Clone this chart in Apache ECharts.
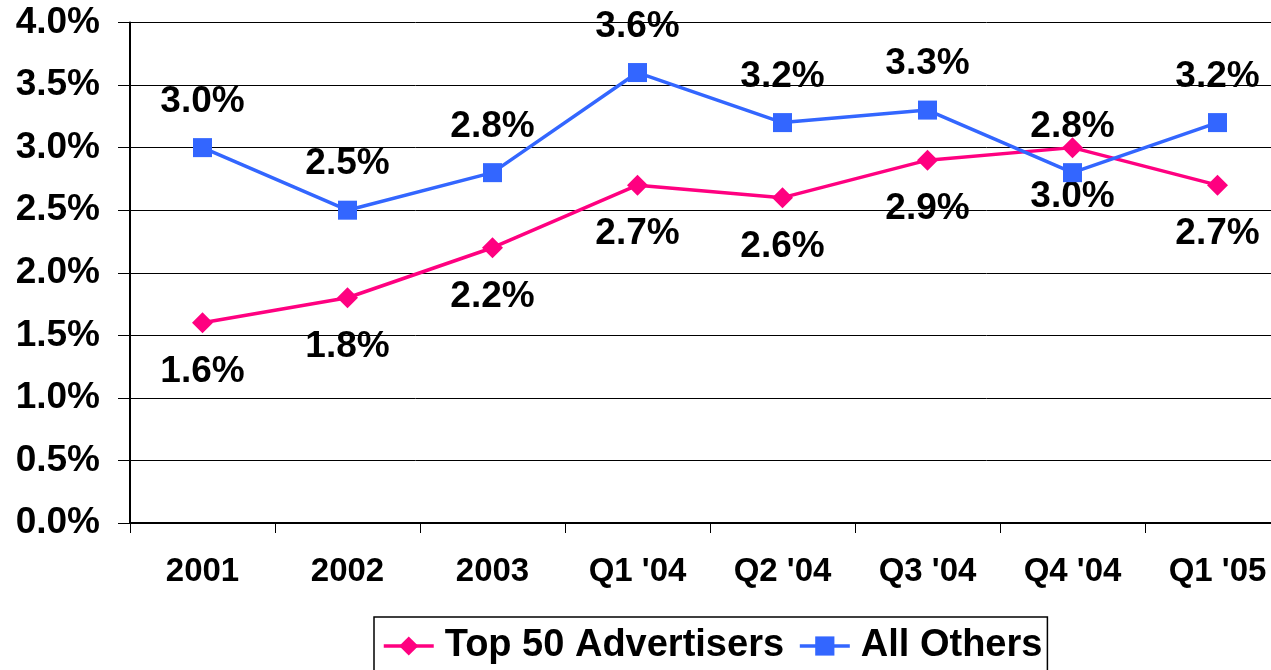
<!DOCTYPE html>
<html lang="en">
<head>
    <meta charset="utf-8">
    <title>Top 50 Advertisers vs All Others</title>
    <script src="https://cdn.jsdelivr.net/npm/echarts@6/dist/echarts.min.js"></script>
    <style type="text/css">
        html, body {margin: 0; padding: 0; background: #fff;}
        #chart {width: 1271px; height: 670px;}
    </style>
</head>
<body>
    <div id="chart"></div>
    <script>
        var categories = ['2001', '2002', '2003', "Q1 '04", "Q2 '04", "Q3 '04", "Q4 '04", "Q1 '05"];
        var top50 = [1.6, 1.8, 2.2, 2.7, 2.6, 2.9, 3.0, 2.7];
        var allOthers = [3.0, 2.5, 2.8, 3.6, 3.2, 3.3, 2.8, 3.2];
        var yMin = 0, yMax = 4, yStep = 0.5;

        var font = '"Liberation Sans", Arial, sans-serif';
        var pct = function (v) { return v.toFixed(1) + '%'; };

        var chart = echarts.init(document.getElementById('chart'), null, {renderer: 'canvas'});
        chart.setOption({
            animation: false,
            backgroundColor: '#ffffff',
            textStyle: {fontFamily: font},
            // plot runs past the right edge in the original, so no clamping
            grid: {left: 130, top: 22.5, width: 1160, bottom: 147, outerBoundsMode: 'none'},
            legend: {
                left: 374, top: 617,
                padding: [10, 5, 12, 8],
                borderColor: '#000', borderWidth: 1.5,
                itemWidth: 50, itemHeight: 24, itemGap: 14,
                lineStyle: {width: 3.5},
                textStyle: {
                    fontFamily: font, fontWeight: 'bold', fontSize: 38,
                    color: '#000', padding: [0, 0, 0, 6]
                },
                data: ['Top 50 Advertisers', 'All Others']
            },
            xAxis: {
                type: 'category', data: categories, boundaryGap: true,
                axisLine: {lineStyle: {color: '#000', width: 2}},
                axisTick: {show: true, length: 10, lineStyle: {color: '#000', width: 1}},
                axisLabel: {
                    color: '#000', fontFamily: font, fontWeight: 'bold',
                    fontSize: 33, margin: 32, interval: 0
                }
            },
            yAxis: {
                type: 'value', min: yMin, max: yMax, interval: yStep,
                axisLine: {show: true, lineStyle: {color: '#000', width: 2}},
                axisTick: {show: true, length: 12, lineStyle: {color: '#000', width: 1}},
                splitLine: {lineStyle: {color: '#000', width: 1}},
                axisLabel: {
                    color: '#000', fontFamily: font, fontWeight: 'bold',
                    fontSize: 37, margin: 30, formatter: pct
                }
            },
            series: [
                {
                    name: 'Top 50 Advertisers', type: 'line', data: top50,
                    symbol: 'diamond', symbolSize: 21,
                    itemStyle: {color: '#FF0080'},
                    lineStyle: {color: '#FF0080', width: 3.5},
                    label: {
                        show: true, position: 'bottom', distance: 20,
                        color: '#000', fontFamily: font, fontWeight: 'bold', fontSize: 37,
                        formatter: function (p) { return pct(p.value); }
                    },
                    z: 2
                },
                {
                    name: 'All Others', type: 'line', data: allOthers,
                    symbol: 'rect', symbolSize: 19,
                    itemStyle: {color: '#3366FF'},
                    lineStyle: {color: '#3366FF', width: 3.5},
                    label: {
                        show: true, position: 'top', distance: 18,
                        color: '#000', fontFamily: font, fontWeight: 'bold', fontSize: 37,
                        formatter: function (p) { return pct(p.value); }
                    },
                    z: 3
                }
            ]
        });
    </script>
</body>
</html>
